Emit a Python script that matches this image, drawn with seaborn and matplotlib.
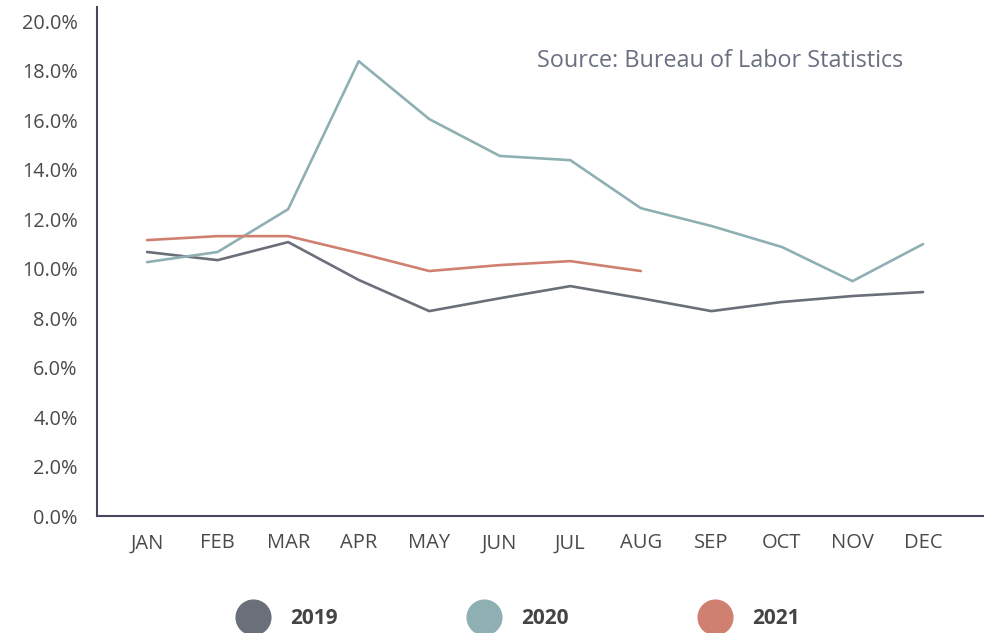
import matplotlib
matplotlib.use("Agg")
import matplotlib.pyplot as plt
from matplotlib.lines import Line2D
from matplotlib.ticker import FuncFormatter
import seaborn as sns
import pandas as pd

months = ["JAN", "FEB", "MAR", "APR", "MAY", "JUN", "JUL", "AUG", "SEP", "OCT", "NOV", "DEC"]
rate_2019 = [10.67, 10.34, 11.07, 9.54, 8.28, 8.80, 9.29, 8.80, 8.28, 8.65, 8.89, 9.05]
rate_2020 = [10.26, 10.67, 12.40, 18.38, 16.04, 14.55, 14.38, 12.44, 11.72, 10.87, 9.49, 10.99]
rate_2021 = [11.15, 11.31, 11.31, 10.63, 9.90, 10.14, 10.30, 9.90]
years = ["2019", "2020", "2021"]
colors = ["#6a6f7a", "#8fb0b3", "#d08070"]

rows = []
for yr, vals in zip(years, [rate_2019, rate_2020, rate_2021]):
    for i, v in enumerate(vals):
        rows.append({"month": i, "rate": v, "year": yr})
df = pd.DataFrame(rows)

sns.set_theme(style="white")
plt.rcParams["font.family"] = ["Open Sans", "DejaVu Sans"]

fig = plt.figure(figsize=(9.93, 6.33), dpi=100)
ax = fig.add_axes([97 / 993, 117 / 633, 886 / 993, 509 / 633])

sns.lineplot(data=df, x="month", y="rate", hue="year", palette=dict(zip(years, colors)),
             linewidth=1.9, ax=ax, legend=False)

ax.set_xlim(-0.71, 11.85)
ax.set_ylim(0, 20.57)
ax.set_yticks([0, 2, 4, 6, 8, 10, 12, 14, 16, 18, 20])
ax.yaxis.set_major_formatter(FuncFormatter(lambda v, p: f"{v:.1f}%"))
ax.set_xticks(range(12))
ax.set_xticklabels(months)
ax.set_xlabel("")
ax.set_ylabel("")
ax.tick_params(axis="y", length=0, pad=14, labelsize=14.3, labelcolor="#4a4a4a")
ax.tick_params(axis="x", length=0, pad=12.5, labelsize=14.5, labelcolor="#4a4a4a")
for s in ["top", "right"]:
    ax.spines[s].set_visible(False)
for s in ["left", "bottom"]:
    ax.spines[s].set_color("#4a4660")
    ax.spines[s].set_linewidth(1.5)

ax.text(0.497, 0.894, "Source: Bureau of Labor Statistics", transform=ax.transAxes,
        fontsize=16.8, color="#6a7080", ha="left", va="center")

handles = [Line2D([0], [0], marker="o", linestyle="", markersize=25,
                  markerfacecolor=c, markeredgecolor=c) for c in colors]
leg = fig.legend(handles, years, loc="center", bbox_to_anchor=(516 / 993, 1 - 619 / 633),
                 ncol=3, frameon=False, columnspacing=6.05, handletextpad=0.75,
                 prop={"weight": "bold", "size": 15})
for t in leg.get_texts():
    t.set_color("#444444")

fig.savefig("out.png", dpi=100)
